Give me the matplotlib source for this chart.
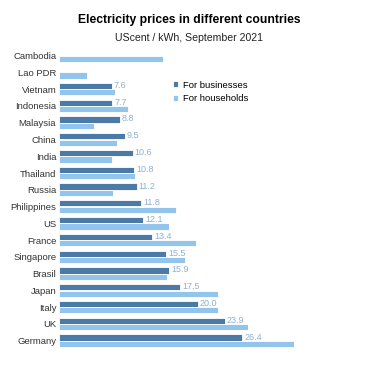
import matplotlib.pyplot as plt
import numpy as np

plt.rcParams['font.family'] = ['Liberation Sans', 'DejaVu Sans']

# Страны и цены (центы США за кВт·ч)
countries = ["Cambodia", "Lao PDR", "Vietnam", "Indonesia", "Malaysia", "China",
             "India", "Thailand", "Russia", "Philippines", "US", "France",
             "Singapore", "Brasil", "Japan", "Italy", "UK", "Germany"]
business = [None, None, 7.6, 7.7, 8.8, 9.5, 10.6, 10.8, 11.2, 11.8, 12.1, 13.4,
            15.5, 15.9, 17.5, 20.0, 23.9, 26.4]
households = [15.0, 4.1, 8.1, 10.0, 5.0, 8.4, 7.7, 11.0, 7.8, 16.8, 15.9, 19.8,
              18.2, 15.6, 22.9, 22.9, 27.3, 33.9]

c_bus = "#4a7aa5"
c_hh = "#92c4ec"

fig = plt.figure(figsize=(3.78, 3.75), dpi=100)
ax = fig.add_axes([59 / 378, 1 - 352 / 375, 1 - 59 / 378, (352 - 45) / 375])

y = np.arange(len(countries))
h = 0.37
bus_vals = [v if v is not None else 0 for v in business]
ax.barh(y - 0.19, bus_vals, height=h, color=c_bus, edgecolor="white",
        linewidth=0.6, label="For businesses")
ax.barh(y + 0.19, households, height=h, color=c_hh, edgecolor="white",
        linewidth=0.6, label="For households")

# Подписи значений
for i, v in enumerate(business):
    if v is not None:
        ax.text(v + 0.3, y[i] - 0.22, f"{v:.1f}", va="center", ha="left",
                fontsize=6.5, color="#8fb0d0")

ax.set_yticks(y)
ax.set_yticklabels(countries, fontsize=6.8, color="#333333")
ax.tick_params(axis="y", length=0, pad=2)
ax.set_xticks([])
ax.set_xlim(0, 46)
ax.set_ylim(17.67, -0.63)
for s in ax.spines.values():
    s.set_visible(False)

fig.text(0.5, 1 - 20 / 375, "Electricity prices in different countries",
         ha="center", va="center", fontsize=8.7, fontweight="bold")
fig.text(0.5, 1 - 38 / 375, "UScent / kWh, September 2021",
         ha="center", va="center", fontsize=7.6, color="#222222")

fig.legend(loc="upper left", bbox_to_anchor=(168 / 378, 1 - 76 / 375),
           frameon=False, fontsize=6.8, handlelength=0.6, handleheight=0.6,
           handletextpad=0.5, labelspacing=0.45, borderpad=0)

fig.savefig("out.png", dpi=100)
